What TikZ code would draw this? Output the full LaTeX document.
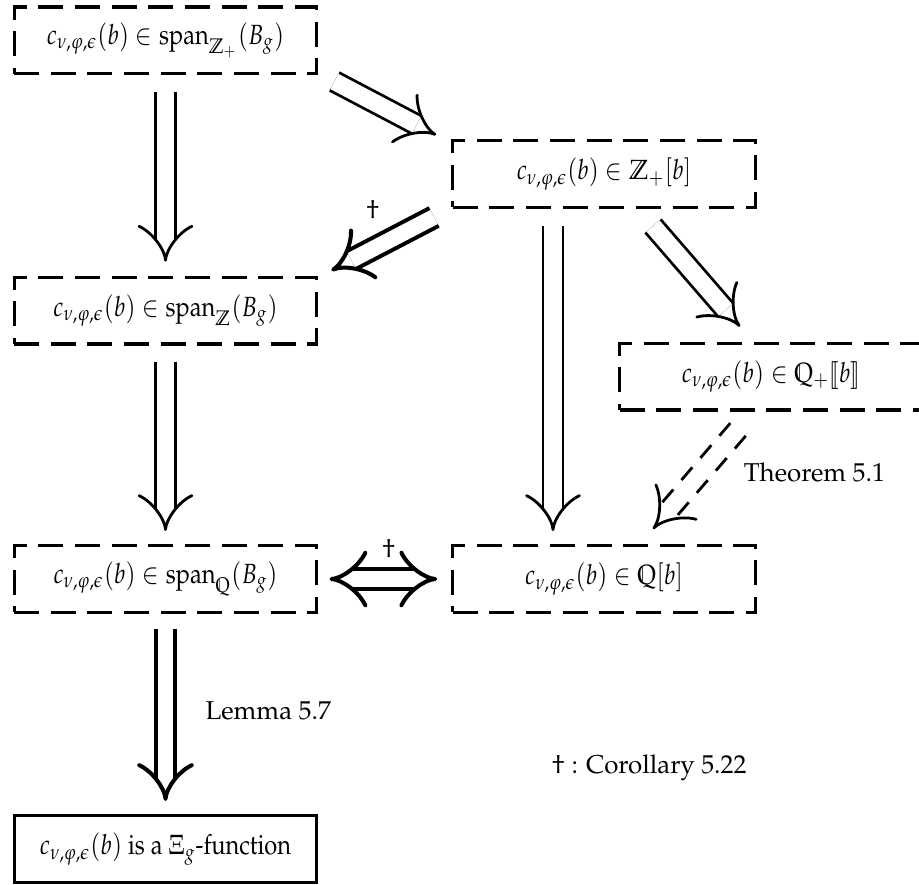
\documentclass[tikz,border=0pt]{standalone}
\usepackage[T1]{fontenc}
\usepackage{amsmath}
\usepackage{mathpazo}
\usepackage{stmaryrd}
\usepackage{graphicx}
\usepackage{tikz}
\usetikzlibrary{arrows.meta}
\newcommand{\cnpe}{c_{\nu,\varphi,\epsilon}(b)}
\newcommand{\cdtext}[1]{\scalebox{0.85}[1]{#1}}
\tikzset{
  cdbox/.style={draw, line width=1.1pt, dash pattern=on 9pt off 4.2pt,
                minimum width=109pt, minimum height=24.1pt, inner sep=0pt},
  endbox/.style={draw, line width=1.1pt, minimum width=109pt,
                 minimum height=24.1pt, inner sep=0pt},
  impl/.style={double, line width=1pt, double distance=6.2pt,
               -{Implies[length=12.5pt, width=20pt]}},
  implthick/.style={double, line width=1.45pt, double distance=5.7pt,
                    -{Implies[length=12.5pt, width=20pt]}},
  tiponly/.style={impl, line cap=butt, dash pattern=on 0pt off 400pt},
  dashleg/.style={line width=1pt, dash pattern=on 6pt off 4.5pt},
  lbl/.style={inner sep=0pt, font=\fontsize{9.3}{11}\selectfont},
}

\begin{document}
\begin{tikzpicture}[x=0.36pt, y=-0.36pt, font=\fontsize{10}{12}\selectfont]
    \useasboundingbox (0,0) rectangle (919,884);

    % the boxes
    \node[cdbox] (zpspan) at (165.5,40.5) {\cdtext{$\cnpe \in \operatorname{span}_{\mathbb{Z}_+}(B_g)$}};
    \node[cdbox] (zppoly) at (604,174) {\cdtext{$\cnpe \in \mathbb{Z}_+[b]$}};
    \node[cdbox] (zspan) at (165.5,310.5) {\cdtext{$\cnpe \in \operatorname{span}_{\mathbb{Z}}(B_g)$}};
    \node[cdbox] (qpser) at (771,376.5) {\cdtext{$\cnpe \in \mathbb{Q}_+\llbracket b\rrbracket$}};
    \node[cdbox] (qspan) at (165.5,579) {\cdtext{$\cnpe \in \operatorname{span}_{\mathbb{Q}}(B_g)$}};
    \node[cdbox] (qpoly) at (604,579) {\cdtext{$\cnpe \in \mathbb{Q}[b]$}};
    \node[endbox] (xifun) at (165.5,849) {\cdtext{$\cnpe$ is a $\Xi_g$-function}};

    % implications
    \draw[impl, shorten <=5.8pt, shorten >=5pt] (zpspan.south) -- (zspan.north);
    \draw[impl] ([shift={(16,6)}]zpspan.south east) -- ([shift={(-15,-4)}]zppoly.north west);
    \draw[implthick] ([shift={(-17,8)}]zppoly.south west) -- ([shift={(13,-5)}]zspan.north east)
      node[lbl, midway, shift={(-10,-34)}] {$\dagger$};
    \draw[impl] ([shift={(49,17)}]zppoly.south) -- ([shift={(-31,-15)}]qpser.north);
    \draw[impl] ([shift={(-51,17)}]zppoly.south) -- ([shift={(-51,-13)}]qpoly.north);
    % dashed one: two dashed legs and the head
    \draw[dashleg] ([shift={(-25.3,24.4)}]qpser.south) -- ([shift={(69.5,-24)}]qpoly.north);
    \draw[dashleg] ([shift={(-40.7,11.6)}]qpser.south) -- ([shift={(54.1,-36.8)}]qpoly.north);
    \draw[tiponly] ([shift={(-33,18)}]qpser.south) -- ([shift={(49,-15)}]qpoly.north)
      node[lbl, midway, anchor=west, shift={(47,-7)}] {Theorem 5.1};
    \draw[impl, shorten <=5.8pt, shorten >=4.7pt] (zspan.south) -- (qspan.north);
    \draw[implthick, {Implies[length=12.5pt, width=20pt]}-{Implies[length=12.5pt, width=20pt]},
          shorten <=4pt, shorten >=5pt] (qspan.east) -- (qpoly.west)
      node[lbl, midway, shift={(4,-30)}] {$\dagger$};
    \draw[implthick, shorten <=5.4pt, shorten >=4.7pt] (qspan.south) -- (xifun.north)
      node[lbl, midway, anchor=west, shift={(38,-3)}] {Lemma 5.7};

    \node[lbl] (dagnote) at (649,768) {$\dagger$ : Corollary 5.22};
  \end{tikzpicture}
\end{document}
